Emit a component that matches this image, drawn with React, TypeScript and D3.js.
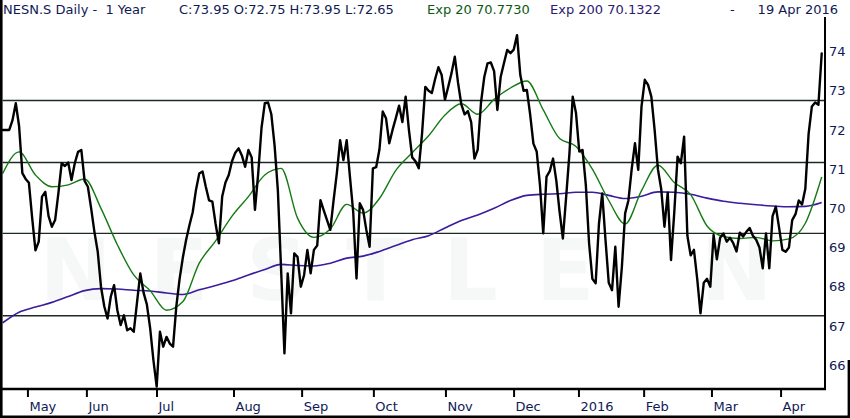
import { scaleLinear, line as d3_line, curveMonotoneX } from "d3";

// header texts
const TITLE = "NESN.S Daily -\u00a0\u00a01 Year";
const QUOTE = "C:73.95 O:72.75 H:73.95 L:72.65";
const EXP20_LABEL = "Exp 20 70.7730";
const EXP200_LABEL = "Exp 200 70.1322";
const DATE_LABEL = "19 Apr 2016";

// daily closes, one per session (20 Apr 2015 .. 19 Apr 2016)
const close = [
  72.0, 72.0, 72.0, 72.25, 72.68, 72.1, 70.9, 70.75, 70.65, 69.75,
  68.93, 69.15, 70.3, 70.42, 69.8, 69.53, 69.7, 70.39, 71.15, 71.08,
  71.17, 70.72, 71.15, 71.44, 71.49, 70.7, 70.55, 70.0, 69.4, 68.9,
  68.0, 67.5, 67.19, 67.75, 68.04, 67.4, 67.02, 67.27, 66.89, 66.94,
  66.85, 67.6, 68.34, 67.85, 67.55, 66.95, 66.13, 65.45, 66.85, 66.47,
  66.72, 66.55, 66.47, 67.5, 68.2, 68.75, 69.2, 69.57, 69.9, 70.47,
  70.89, 70.94, 70.55, 70.2, 70.17, 69.6, 69.11, 70.3, 70.66, 70.85,
  71.2, 71.42, 71.53, 71.35, 71.06, 71.49, 71.3, 69.96, 70.9, 72.05,
  72.68, 72.7, 72.4, 71.6, 70.45, 68.4, 66.3, 68.34, 67.32, 68.85,
  68.76, 68.0, 68.3, 68.94, 68.34, 68.94, 69.05, 70.21, 69.95, 69.7,
  69.45, 70.2, 70.9, 71.74, 71.23, 71.74, 70.8, 69.9, 68.21, 70.13,
  69.96, 69.45, 69.02, 71.02, 71.05, 71.5, 72.47, 72.3, 71.66, 72.0,
  72.3, 72.62, 72.2, 72.85, 72.0, 71.3, 71.2, 71.02, 71.9, 73.1,
  73.0, 72.94, 73.3, 73.6, 73.4, 72.77, 73.1, 73.45, 73.87, 73.2,
  72.65, 72.4, 72.48, 72.2, 71.27, 71.5, 72.7, 73.35, 73.7, 73.72,
  73.5, 72.51, 73.35, 73.7, 74.04, 73.96, 74.05, 74.42, 73.4, 73.0,
  73.02, 72.4, 71.65, 71.45, 70.6, 69.36, 70.81, 70.95, 71.27, 70.7,
  69.9, 69.23, 70.3, 71.4, 72.85, 72.43, 71.45, 71.49, 70.6, 69.1,
  68.2, 68.09, 69.6, 70.38, 69.2, 68.1, 67.91, 69.02, 67.49, 68.5,
  69.87, 70.2, 71.0, 71.66, 70.98, 72.6, 73.28, 73.15, 72.85, 72.0,
  71.0, 70.5, 69.53, 70.4, 68.68, 69.9, 71.32, 71.15, 71.83, 69.3,
  68.8, 68.94, 68.2, 67.32, 68.1, 68.2, 68.0, 69.32, 68.7, 69.25,
  69.36, 69.15, 69.25, 69.11, 68.9, 69.38, 69.28, 69.4, 69.5, 69.3,
  69.2, 69.0, 68.47, 69.36, 68.47, 69.8, 70.04, 69.5, 68.94, 68.89,
  69.0, 69.7, 69.85, 70.2, 70.1, 70.5, 71.9, 72.6, 72.7, 72.64,
  73.95,
];

// moving averages, read every EMA_STEP sessions
const EMA_STEP = 5;
const ema20 = [
  70.89, 71.44, 70.85, 70.55, 70.6, 70.75, 70.0, 69.07, 68.3, 67.9,
  67.4, 67.62, 68.6, 69.17, 69.8, 70.3, 70.85, 71.02, 69.75, 69.26,
  69.47, 70.1, 69.88, 70.25, 70.97, 71.42, 71.85, 72.38, 72.67, 72.4,
  72.78, 73.07, 73.25, 72.51, 71.78, 71.58, 71.0, 70.2, 69.6, 70.45,
  71.1, 70.66, 70.35, 69.55, 69.28, 69.23, 69.26, 69.17, 69.22, 69.62,
  70.8,
];
const ema200 = [
  67.08, 67.35, 67.48, 67.6, 67.75, 67.9, 67.95, 67.94, 67.91, 67.89,
  67.84, 67.8, 67.92, 68.03, 68.15, 68.3, 68.44, 68.57, 68.54, 68.53,
  68.6, 68.73, 68.78, 68.9, 69.05, 69.2, 69.3, 69.5, 69.69, 69.83,
  70.0, 70.2, 70.33, 70.36, 70.37, 70.41, 70.41, 70.33, 70.25, 70.31,
  70.42, 70.41, 70.36, 70.26, 70.18, 70.13, 70.09, 70.06, 70.04, 70.05,
  70.15,
];

// x axis: month labels at session positions
const monthLabels = ["May", "Jun", "Jul", "Aug", "Sep", "Oct", "Nov", "Dec", "2016", "Feb", "Mar", "Apr"];
const monthTicks = [7.7, 25.7, 47.1, 70.6, 91.4, 113.3, 135.3, 156.1, 175.9, 195.8, 216.5, 237.6];

// y axis ticks and horizontal levels
const yTicks = [66, 67, 68, 69, 70, 71, 72, 73, 74];
const levels = [72.75, 71.17, 69.36, 67.26];

const NAVY = "#0f1a55";
const FONT = "'DejaVu Sans', Verdana, sans-serif";

export default function App() {
  const left = 2.7;
  const right = 825;
  const top = 30;
  const bottom = 389;

  const x = scaleLinear().domain([0, close.length - 1]).range([left, 821.7]);
  const y = scaleLinear().domain([65.39, 74.55]).range([bottom, top]);

  const priceLine = d3_line<number>()
    .x((_, i) => x(i))
    .y((d) => y(d));

  const emaLine = d3_line<number>()
    .x((_, i) => x(i * EMA_STEP))
    .y((d) => y(d))
    .curve(curveMonotoneX);

  return (
    <svg
      width={850}
      height={418}
      style={{ position: "absolute", left: 0, top: 0, background: "#fff" }}
      fontFamily={FONT}
    >
      <defs>
        <clipPath id="plot-clip">
          <rect x={2} y={top - 10} width={right - 2} height={bottom - top + 10} />
        </clipPath>
      </defs>

      {/* faint watermark */}
      <text
        x={425}
        y={300}
        textAnchor="middle"
        fontSize={86}
        fontWeight="bold"
        letterSpacing={38}
        fill="#f6f7f7"
      >
        NESTLE N
      </text>

      {/* header */}
      <g fontSize={13}>
        <text x={3} y={14} fill={NAVY}>{TITLE}</text>
        <text x={179} y={14} fill={NAVY}>{QUOTE}</text>
        <text x={427} y={14} fill="#0b5a12">{EXP20_LABEL}</text>
        <text x={550} y={14} fill="#2c1a70">{EXP200_LABEL}</text>
        <text x={730} y={14} fill={NAVY}>-</text>
        <text x={838} y={14} fill={NAVY} textAnchor="end">{DATE_LABEL}</text>
      </g>

      {/* horizontal levels */}
      {levels.map((v, i) => (
        <line key={i} x1={left} x2={right} y1={y(v)} y2={y(v)} stroke="#1c2a26" strokeWidth={1.4} />
      ))}

      <g clipPath="url(#plot-clip)">
        <path d={emaLine(ema200) ?? ""} fill="none" stroke="#3a1c9c" strokeWidth={1.6} />
        <path d={emaLine(ema20) ?? ""} fill="none" stroke="#147a14" strokeWidth={1.4} />
        <path
          d={priceLine(close) ?? ""}
          fill="none"
          stroke="#000"
          strokeWidth={2.4}
          strokeLinejoin="round"
          strokeLinecap="round"
        />
      </g>

      {/* frame */}
      <line x1={right} x2={right} y1={17} y2={bottom} stroke="#000" strokeWidth={2} />
      <line x1={0} x2={right + 1} y1={bottom} y2={bottom} stroke="#000" strokeWidth={2.5} />
      <line x1={1.3} x2={1.3} y1={0} y2={418} stroke="#000" strokeWidth={2.6} />
      <line x1={0} x2={850} y1={416.8} y2={416.8} stroke="#000" strokeWidth={2.4} />
      <line x1={848.8} x2={848.8} y1={360} y2={418} stroke="#000" strokeWidth={2.4} />

      {/* y axis labels */}
      <g fontSize={13} fill={NAVY}>
        {yTicks.map((t) => (
          <text key={t} x={829} y={y(t)} dy="0.36em">
            {t}
          </text>
        ))}
      </g>

      {/* x axis ticks and labels */}
      <g fontSize={13} fill={NAVY}>
        {monthTicks.map((m, i) => (
          <g key={i}>
            <line x1={x(m)} x2={x(m)} y1={bottom + 1} y2={397} stroke="#000" strokeWidth={2} />
            <text x={x(m) + 1.5} y={411}>
              {monthLabels[i]}
            </text>
          </g>
        ))}
      </g>
    </svg>
  );
}
